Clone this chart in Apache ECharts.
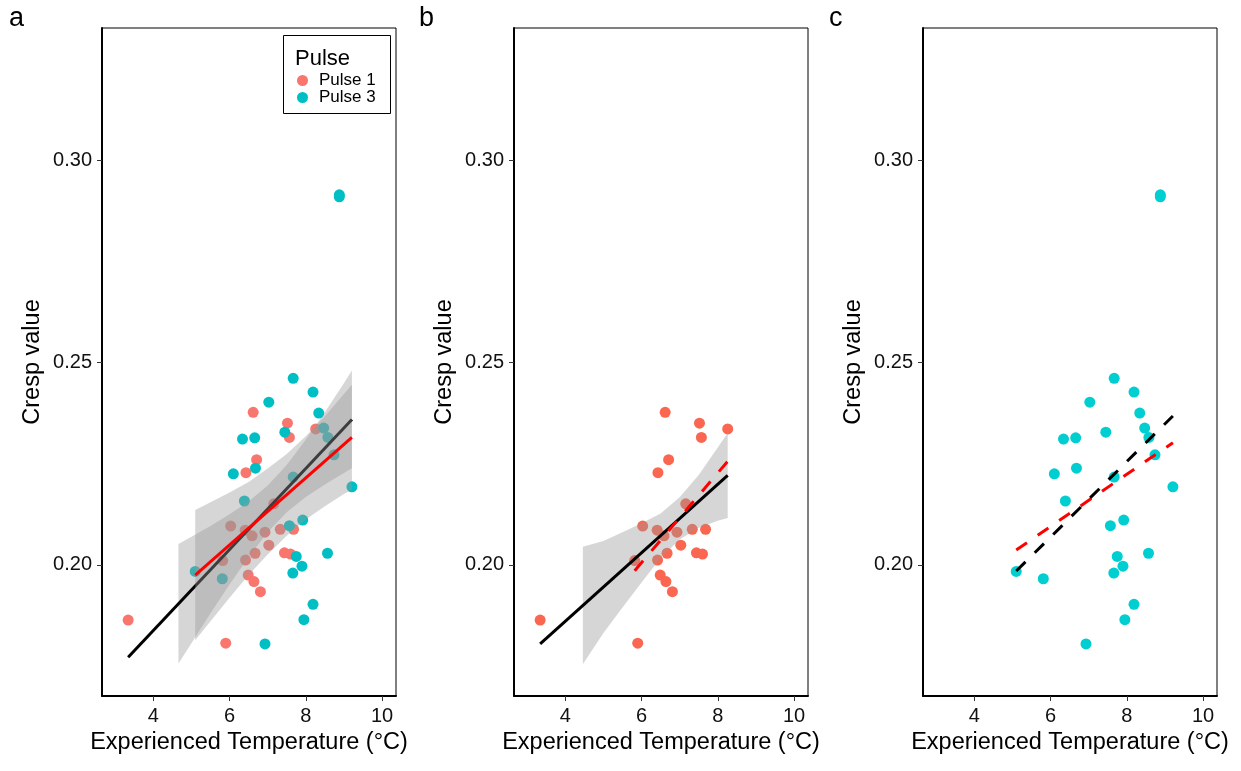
<!DOCTYPE html>
<html>
<head>
<meta charset="utf-8">
<script src="https://cdn.jsdelivr.net/npm/echarts@6/dist/echarts.min.js"></script>
<style>
  html, body { margin: 0; padding: 0; background: #fff; }
  #chart { width: 1241px; height: 771px; }
</style>
</head>
<body>
<div id="chart"></div>
<script>
// Cresp value against experienced temperature, by pulse.
const pulse1Temp  = [6.62, 7.52, 7.57, 8.26, 6.71, 6.43, 7.16, 6.03, 6.41, 6.59, 6.93, 7.33,
                     7.68, 7.03, 6.67, 7.44, 7.60, 6.42, 5.82, 6.49, 6.64, 6.81, 3.34, 5.90];
const pulse1Cresp = [0.2377, 0.2350, 0.2315, 0.2336, 0.2260, 0.2228, 0.2151, 0.2096, 0.2086, 0.2072, 0.2081, 0.2088,
                     0.2088, 0.2049, 0.2029, 0.2030, 0.2027, 0.2012, 0.2011, 0.1975, 0.1959, 0.1934, 0.1864, 0.1807];

const pulse3Temp  = [7.67, 8.19, 7.03, 8.34, 8.47, 8.58, 7.45, 6.34, 6.66, 8.74, 6.10, 6.68, 7.67, 9.21,
                     6.39, 7.92, 7.57, 8.57, 7.75, 7.90, 7.66, 5.10, 5.81, 8.19, 7.95, 6.93, 8.88, 8.88];
const pulse3Cresp = [0.2461, 0.2427, 0.2402, 0.2375, 0.2338, 0.2315, 0.2328, 0.2311, 0.2314, 0.2272, 0.2225, 0.2239, 0.2217, 0.2193,
                     0.2158, 0.2111, 0.2097, 0.2029, 0.2021, 0.1997, 0.1980, 0.1984, 0.1966, 0.1903, 0.1865, 0.1805, 0.2914, 0.2909];

const xTicks = [4, 6, 8, 10];
const yTicks = [0.20, 0.25, 0.30];

// Fitted lines, end points [temperature, cresp]
const fitAllA    = [[3.34, 0.1772], [9.21, 0.2359]];
const fitPulse3A = [[5.10, 0.1975], [9.21, 0.2315]];
const fitPulse1B = [[3.34, 0.1805], [8.26, 0.2221]];
const fitAltB    = [[5.82, 0.1986], [8.26, 0.2256]];
const fitPulse3C = [[5.10, 0.1985], [9.21, 0.2368]];
const fitAltC    = [[5.10, 0.2037], [9.21, 0.2302]];

// Confidence ribbons
const bandAllTemp = [4.66, 5.0, 5.5, 6.0, 6.5, 7.0, 7.5, 8.0, 8.5, 9.0, 9.21];
const bandAllLow  = [0.1757, 0.1807, 0.1881, 0.1952, 0.2020, 0.2081, 0.2130, 0.2168, 0.2199, 0.2227, 0.2239];
const bandAllHigh = [0.2052, 0.2070, 0.2096, 0.2125, 0.2157, 0.2196, 0.2247, 0.2309, 0.2377, 0.2449, 0.2480];

const bandP3Temp = [5.10, 5.5, 6.0, 6.5, 7.0, 7.5, 8.0, 8.5, 9.0, 9.21];
const bandP3Low  = [0.1814, 0.1861, 0.1919, 0.1975, 0.2026, 0.2072, 0.2112, 0.2145, 0.2175, 0.2185];
const bandP3High = [0.2136, 0.2155, 0.2179, 0.2205, 0.2238, 0.2274, 0.2318, 0.2367, 0.2422, 0.2445];

const bandP1Temp = [4.46, 5.0, 5.5, 6.0, 6.5, 7.0, 7.5, 8.0, 8.26];
const bandP1Low  = [0.1755, 0.1832, 0.1895, 0.1957, 0.2017, 0.2063, 0.2092, 0.2109, 0.2116];
const bandP1High = [0.2045, 0.2059, 0.2081, 0.2103, 0.2127, 0.2167, 0.2222, 0.2290, 0.2326];

const FONT = "'Liberation Sans', Arial, Helvetica, sans-serif";
const X_MIN = 2.654, X_MAX = 10.367;
const Y_MIN = 0.16765, Y_MAX = 0.33259;
const PANEL_LEFT = [102, 514, 923];
const PANEL_TOP = 28, PANEL_W = 294, PANEL_H = 668;

const zip = (xs, ys) => xs.map((x, i) => [x, ys[i]]);

const grids = PANEL_LEFT.map(left => ({
  left: left, top: PANEL_TOP, width: PANEL_W, height: PANEL_H,
  show: true, borderColor: '#000', borderWidth: 1, backgroundColor: 'transparent',
  containLabel: false, outerBoundsMode: 'none'
}));

const xAxes = PANEL_LEFT.map((_, i) => ({
  type: 'value', gridIndex: i, min: X_MIN, max: X_MAX,
  name: 'Experienced Temperature (°C)', nameLocation: 'middle', nameGap: 33,
  nameTextStyle: { fontSize: 23.5, color: '#000', fontFamily: FONT },
  axisLine: { show: true, onZero: false, lineStyle: { color: '#000', width: 2 } },
  axisTick: { show: true, length: 5, customValues: xTicks, lineStyle: { color: '#333', width: 1 } },
  axisLabel: { show: true, customValues: xTicks, margin: 10, fontSize: 20, color: '#111', fontFamily: FONT },
  splitLine: { show: false }
}));

const yAxes = PANEL_LEFT.map((_, i) => ({
  type: 'value', gridIndex: i, min: Y_MIN, max: Y_MAX,
  name: 'Cresp value', nameLocation: 'middle', nameGap: 57,
  nameTextStyle: { fontSize: 23.5, color: '#000', fontFamily: FONT },
  axisLine: { show: true, onZero: false, lineStyle: { color: '#000', width: 2 } },
  axisTick: { show: true, length: 5, customValues: yTicks, lineStyle: { color: '#333', width: 1 } },
  axisLabel: { show: true, customValues: yTicks, margin: 10, fontSize: 20, color: '#111', fontFamily: FONT,
               formatter: v => v.toFixed(2) },
  splitLine: { show: false }
}));

function points(name, temp, cresp, panel, color, z) {
  return {
    type: 'scatter', name: name, xAxisIndex: panel, yAxisIndex: panel, z: z,
    data: zip(temp, cresp), symbol: 'circle', symbolSize: 11, silent: true,
    itemStyle: { color: color, opacity: 1, borderWidth: 0 }
  };
}

function ribbon(temp, low, high, panel, z) {
  const rows = temp.map((t, i) => [t, low[i], high[i]]);
  return {
    type: 'custom', xAxisIndex: panel, yAxisIndex: panel, z: z, silent: true, clip: true,
    data: rows, encode: { x: 0, y: [1, 2] },
    renderItem: function (params, api) {
      if (params.dataIndex !== 0) return null;
      const upper = rows.map(r => api.coord([r[0], r[2]]));
      const lower = rows.slice().reverse().map(r => api.coord([r[0], r[1]]));
      return { type: 'polygon', shape: { points: upper.concat(lower) },
               style: { fill: 'rgba(153,153,153,0.4)', stroke: null } };
    }
  };
}

function fit(data, panel, color, dashed, z) {
  return {
    type: 'line', xAxisIndex: panel, yAxisIndex: panel, z: z, silent: true,
    data: data, showSymbol: false, symbol: 'none',
    lineStyle: { color: color, width: 3, type: dashed ? [13, 13] : 'solid', cap: 'butt' }
  };
}

const series = [
  // panel a
  points('Pulse 1', pulse1Temp, pulse1Cresp, 0, '#F8766D', 2),
  points('Pulse 3', pulse3Temp, pulse3Cresp, 0, '#00BFC4', 2),
  ribbon(bandAllTemp, bandAllLow, bandAllHigh, 0, 3),
  fit(fitAllA, 0, '#000000', false, 4),
  ribbon(bandP3Temp, bandP3Low, bandP3High, 0, 5),
  fit(fitPulse3A, 0, '#FF0000', false, 6),
  // panel b
  points('Pulse 1 only', pulse1Temp, pulse1Cresp, 1, '#FA6650', 2),
  ribbon(bandP1Temp, bandP1Low, bandP1High, 1, 3),
  fit(fitPulse1B, 1, '#000000', false, 4),
  fit(fitAltB, 1, '#FF0000', true, 5),
  // panel c
  points('Pulse 3 only', pulse3Temp, pulse3Cresp, 2, '#00CED1', 2),
  fit(fitAltC, 2, '#FF0000', true, 4),
  fit(fitPulse3C, 2, '#000000', true, 5)
];

const panelTags = ['a', 'b', 'c'];
const tagLeft = [9, 419, 829];

const chart = echarts.init(document.getElementById('chart'), null, { renderer: 'canvas' });
chart.setOption({
  animation: false,
  backgroundColor: '#fff',
  textStyle: { fontFamily: FONT },
  grid: grids,
  xAxis: xAxes,
  yAxis: yAxes,
  legend: {
    data: ['Pulse 1', 'Pulse 3'], orient: 'vertical', left: 297, top: 72,
    itemWidth: 11, itemHeight: 11, itemGap: 0, icon: 'circle', selectedMode: false,
    padding: 0,
    textStyle: { fontSize: 17, lineHeight: 14.5, color: '#000', fontFamily: FONT, padding: [0, 0, 0, 6] }
  },
  graphic: [
    ...panelTags.map((t, i) => ({
      type: 'text', left: tagLeft[i], top: 5,
      style: { text: t, fontSize: 27, fill: '#000', fontFamily: FONT }
    })),
    { type: 'rect', shape: { x: 283.5, y: 35.5, width: 107, height: 78 },
      style: { fill: '#fff', stroke: '#000', lineWidth: 1 }, z: 1 },
    { type: 'text', left: 295, top: 48,
      style: { text: 'Pulse', fontSize: 22, fill: '#000', fontFamily: FONT }, z: 2 }
  ],
  series: series
});
</script>
</body>
</html>
